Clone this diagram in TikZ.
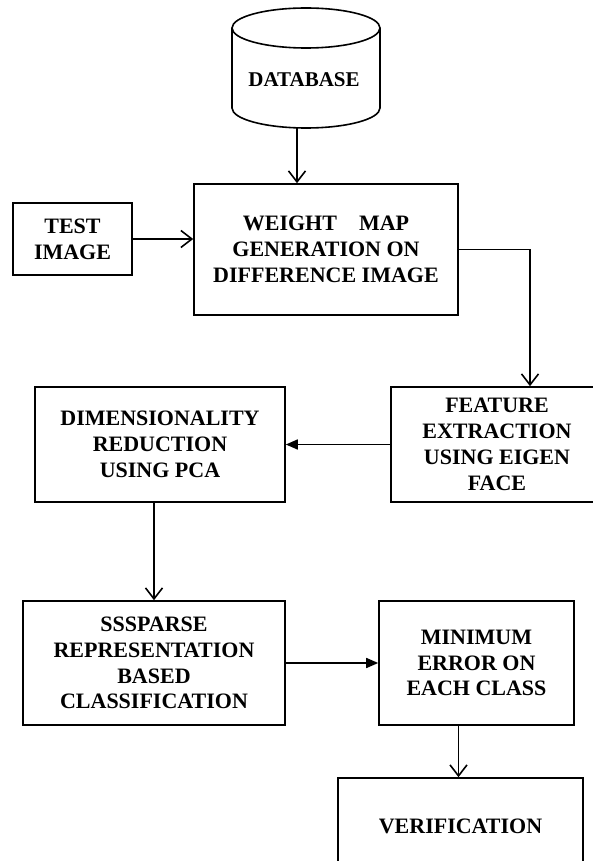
\documentclass[tikz,border=0pt]{standalone}
\usepackage{fontspec}
\setmainfont{Liberation Serif}
\usetikzlibrary{arrows.meta}
\begin{document}
\begin{tikzpicture}[x=1pt,y=-1pt,
  box/.style={draw,line width=1.6pt,align=center,inner sep=0pt,
    font=\fontsize{22}{25.8}\selectfont\bfseries},
  conn/.style={line width=1.6pt},
  openarr/.style={conn,-{Straight Barb[length=11pt,width=17pt,line width=1.6pt]}},
  fillarr/.style={conn,-{Triangle[length=12pt,width=10pt]}}]
\useasboundingbox (0,0) rectangle (592,861);
% cylinder
\draw[line width=1.6pt] (306,28) ellipse[x radius=74pt,y radius=20pt];
\draw[line width=1.6pt] (232,28) -- (232,108) arc[start angle=180,end angle=360,x radius=74pt,y radius=20pt] -- (380,28);
\node[font=\fontsize{21}{25.8}\selectfont\bfseries] (db) at (304,80) {DATABASE};
\coordinate (dbout) at (297,128);
% boxes
\node[box,minimum width=119pt,minimum height=72pt] (test) at (72.5,239) {TEST\\IMAGE};
\node[box,minimum width=264pt,minimum height=131pt] (weight) at (326,249.5) {WEIGHT\hspace{22pt}MAP\\GENERATION ON\\DIFFERENCE IMAGE};
\node[box,minimum width=212pt,minimum height=115pt] (feature) at (497,444.5) {FEATURE\\EXTRACTION\\USING EIGEN\\FACE};
\node[box,minimum width=250pt,minimum height=115pt] (dim) at (160,444.5) {DIMENSIONALITY\\REDUCTION\\USING PCA};
\node[box,minimum width=262pt,minimum height=124pt] (sparse) at (154,663) {SSSPARSE\\REPRESENTATION\\BASED\\CLASSIFICATION};
\node[box,minimum width=195pt,minimum height=124pt] (min) at (476.5,663) {MINIMUM\\ERROR ON\\EACH CLASS};
\node[box,minimum width=245pt,minimum height=96pt] (verif) at (460.5,826) {VERIFICATION};
% connectors
\draw[openarr] (dbout) -- (dbout |- weight.north);
\draw[openarr] (test.east) -- (test.east -| weight.west);
\draw[openarr] (weight.east) -| ([xshift=33pt]feature.north);
\draw[fillarr] (feature.west) -- (dim.east);
\draw[openarr] (sparse.north |- dim.south) -- (sparse.north);
\draw[fillarr] (sparse.east) -- (min.west);
\draw[openarr] ([xshift=-18pt]min.south) -- ([xshift=-2pt]verif.north);
\end{tikzpicture}
\end{document}
